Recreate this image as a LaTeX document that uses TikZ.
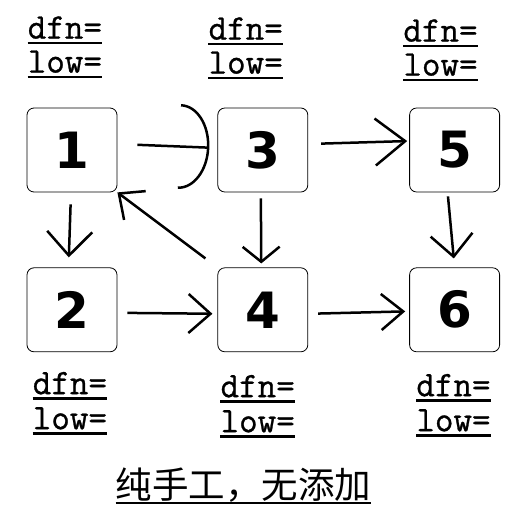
\documentclass[tikz,border=0pt]{standalone}
\usepackage{fontspec}
\newfontfamily\lblfont{Latin Modern Mono}[FakeBold=0.8]
\newfontfamily\digitfont{DejaVu Sans}
\newfontfamily\cjk{Noto Sans CJK SC}
\usetikzlibrary{positioning,arrows.meta}

\begin{document}
\begin{tikzpicture}[x=1pt, y=-1pt, node distance=100pt,
box/.style={draw, line width=0.8pt, rounded corners=7pt, minimum width=90pt, minimum height=84pt,
  font=\digitfont\bfseries\fontsize{50}{50}\selectfont},
lbl/.style={anchor=base west, inner xsep=0pt, inner ysep=4pt, text depth=0pt,
  font=\lblfont\fontsize{36}{36}\selectfont},
ul/.style={line width=2.5pt},
arr/.style={line width=2.5pt, -{#1}},
arr/.default={Straight Barb[length=22pt,width=40pt]}]

\useasboundingbox (0,0) rectangle (515,516);

\node[box] (n1) at (72,150) {1};
\node[box] (n3) [right=of n1] {3};
\node[box] (n5) [right=101pt of n3] {5};
\node[box] (n2) [below=75pt of n1] {2};
\node[box] (n4) [below=75pt of n3] {4};
\node[box] (n6) [below=75pt of n5] {6};

\node[lbl] (l1) at ([xshift=1pt,yshift=35pt]n1.north west) {low=};
\node[lbl] (d1) at ([yshift=34pt]l1.base west) {dfn=};
\node[lbl] (l3) at ([xshift=-9pt,yshift=34pt]n3.north west) {low=};
\node[lbl] (d3) at ([yshift=34pt]l3.base west) {dfn=};
\node[lbl] (l5) at ([xshift=-6pt,yshift=32pt]n5.north west) {low=};
\node[lbl] (d5) at ([yshift=34pt]l5.base west) {dfn=};
\node[lbl] (d2) at ([xshift=6pt,yshift=-42pt]n2.south west) {dfn=};
\node[lbl] (l2) at ([yshift=-35pt]d2.base west) {low=};
\node[lbl] (d4) at ([xshift=3pt,yshift=-45pt]n4.south west) {dfn=};
\node[lbl] (l4) at ([yshift=-35pt]d4.base west) {low=};
\node[lbl] (d6) at ([xshift=7pt,yshift=-44pt]n6.south west) {dfn=};
\node[lbl] (l6) at ([yshift=-35pt]d6.base west) {low=};
\foreach \n in {d1,l1,d3,l3,d5,l5,d2,l2,d4,l4,d6,l6}
  \draw[ul] (\n.south west) -- (\n.south east);

\node[font=\cjk\fontsize{36.5}{36.5}\selectfont, inner sep=0pt, anchor=south] (cap) at (243.5,503) {纯手工，无添加};
\draw[line width=1.5pt] (cap.south west) -- (cap.south east);

\draw[arr={Arc Barb[length=30pt,width=85pt]}, shorten <=20pt, shorten >=8pt] ([yshift=6pt]n1.east) -- ([yshift=2pt]n3.west);
\draw[arr={Straight Barb[length=30pt,width=47pt]}, shorten <=13pt, shorten >=2pt] ([yshift=6pt]n3.east) -- ([yshift=9pt]n5.west);
\draw[arr={Straight Barb[length=24pt,width=45pt]}, shorten <=12pt, shorten >=10pt] ([xshift=-1pt]n1.south) -- ([xshift=-3.5pt]n2.north);
\draw[arr={Straight Barb[length=15pt,width=37pt]}, shorten <=6pt, shorten >=4pt] ([xshift=-2pt]n3.south) -- ([xshift=-1.5pt]n4.north);
\draw[arr={Straight Barb[length=22pt,width=42pt]}, shorten <=4pt, shorten >=9pt] ([xshift=-7pt]n5.south) -- (n6.north);
\draw[arr={Straight Barb[length=20pt,width=36pt]}, shorten <=15pt] (n4.north west) -- (n1.south east);
\draw[arr={Straight Barb[length=22pt,width=39pt]}, shorten <=10pt, shorten >=5pt] ([yshift=-3pt]n2.east) -- ([yshift=-4pt]n4.west);
\draw[arr={Straight Barb[length=22pt,width=36pt]}, shorten <=10pt, shorten >=4pt] ([yshift=-4pt]n4.east) -- ([yshift=-1.5pt]n6.west);

\end{tikzpicture}
\end{document}
